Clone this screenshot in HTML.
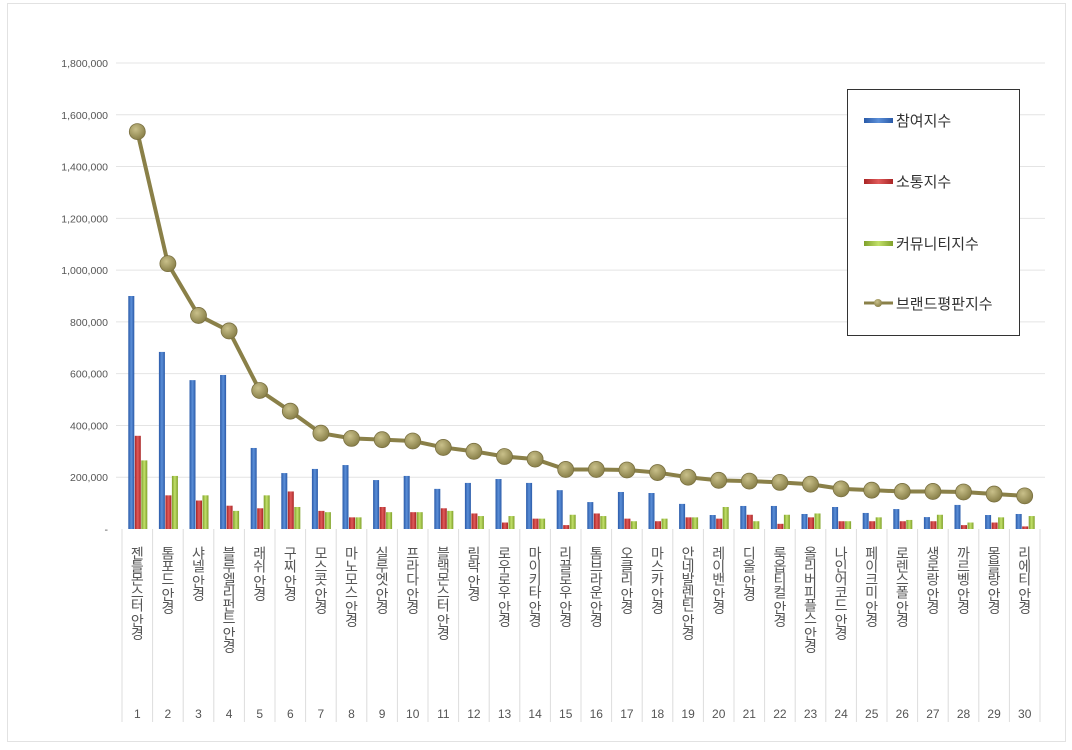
<!DOCTYPE html>
<html><head><meta charset="utf-8">
<style>
html,body{margin:0;padding:0;background:#fff;}
body{width:1072px;height:745px;overflow:hidden;position:relative;font-family:"Liberation Sans","Noto Sans CJK KR",sans-serif;}
svg text{font-family:"Liberation Sans","Noto Sans CJK KR",sans-serif;}
</style></head>
<body>
<svg id="chart" width="1072" height="745" xmlns="http://www.w3.org/2000/svg">
<defs>
<linearGradient id="gb" x1="0" x2="1"><stop offset="0" stop-color="#2a5aa8"/><stop offset="0.5" stop-color="#5b8fd8"/><stop offset="1" stop-color="#2a5aa8"/></linearGradient>
<linearGradient id="gr" x1="0" x2="1"><stop offset="0" stop-color="#a82525"/><stop offset="0.5" stop-color="#e05a5a"/><stop offset="1" stop-color="#a82525"/></linearGradient>
<linearGradient id="gg" x1="0" x2="1"><stop offset="0" stop-color="#7fa02a"/><stop offset="0.5" stop-color="#c2e06a"/><stop offset="1" stop-color="#7fa02a"/></linearGradient>
<radialGradient id="gd" cx="0.4" cy="0.35" r="0.7"><stop offset="0" stop-color="#c9c08a"/><stop offset="1" stop-color="#857c45"/></radialGradient>
</defs>
<rect x="7.5" y="3.5" width="1058" height="738" fill="#fff" stroke="#e2e2e2"/>
<g id="grid"></g><g id="bars"></g><g id="line"></g><g id="xaxis"></g>
<g>
<rect x="847.5" y="89.5" width="172" height="246" fill="#fff" stroke="#333"/>
<g><rect x="864" y="118" width="29" height="5" fill="url(#gb)"/><text x="896" y="126" font-size="15" fill="#333">참여지수</text></g>
<g><rect x="864" y="179" width="29" height="5" fill="url(#gr)"/><text x="896" y="187" font-size="15" fill="#333">소통지수</text></g>
<g><rect x="864" y="241" width="29" height="5" fill="url(#gg)"/><text x="896" y="249" font-size="15" fill="#333">커뮤니티지수</text></g>
<g><line x1="864" y1="303" x2="893" y2="303" stroke="#8a8048" stroke-width="3"/><circle cx="878" cy="303" r="4" fill="url(#gd)"/><text x="896" y="309" font-size="15" fill="#333">브랜드평판지수</text></g>
</g>
</svg>
<script>
const categories=["젠틀몬스터 안경","톰포드 안경","샤넬 안경","블루엘리펀트 안경","래쉬 안경","구찌 안경","모스콧 안경","마노모스 안경","실루엣 안경","프라다 안경","블랙몬스터 안경","림락 안경","로우로우 안경","마이키타 안경","리끌로우 안경","톰브라운 안경","오클리 안경","마스카 안경","안네발렌틴 안경","레이밴 안경","디올 안경","룩옵티컬 안경","올리버피플스 안경","나인어코드 안경","페이크미 안경","로렌스폴 안경","생로랑 안경","까르벵 안경","몽블랑 안경","리에티 안경"];
const participation=[900000,684000,575000,595000,313000,216000,232000,247000,189000,205000,155000,178000,193000,178000,150000,104000,143000,139000,97000,54000,89000,89000,58000,85000,62000,77000,46000,93000,54000,58000];
const communication=[360000,130000,110000,90000,80000,145000,70000,45000,85000,65000,80000,60000,25000,40000,15000,60000,40000,30000,45000,40000,55000,20000,45000,30000,30000,30000,30000,15000,25000,10000];
const community=[265000,205000,130000,70000,130000,85000,65000,45000,65000,65000,70000,50000,50000,40000,55000,50000,30000,40000,45000,85000,30000,55000,60000,30000,45000,35000,55000,25000,45000,50000];
const reputation=[1535000,1025000,825000,765000,535000,455000,370000,350000,345000,340000,315000,300000,280000,270000,230000,230000,228000,218000,200000,188000,185000,180000,173000,155000,150000,145000,145000,143000,135000,128000];
const yTicks=[0,200000,400000,600000,800000,1000000,1200000,1400000,1600000,1800000];
const yTickLabels=["-","200,000","400,000","600,000","800,000","1,000,000","1,200,000","1,400,000","1,600,000","1,800,000"];

const NS="http://www.w3.org/2000/svg";
const x0=122, step=30.6, y0=529, yTop=63, yMax=1800000;
const y=v=>y0-(v/yMax)*(y0-yTop);
const xc=i=>x0+step*i+step/2;
function mk(tag,attrs,parent){const e=document.createElementNS(NS,tag);for(const k in attrs)e.setAttribute(k,attrs[k]);parent.appendChild(e);return e;}
const grid=document.getElementById('grid'),bars=document.getElementById('bars'),line=document.getElementById('line'),xa=document.getElementById('xaxis');
yTicks.forEach((t,i)=>{
  if(i>0){const l=mk('line',{x1:x0-6,x2:1045,y1:y(t),y2:y(t),stroke:'#e4e4e4','stroke-width':1},grid);
  
  }
  const tx=mk('text',{x:108,y:y(t)+4,'text-anchor':'end','font-size':10.5,fill:'#555'},grid);
  tx.textContent=yTickLabels[i];
  
  
});
const series=[[participation,'url(#gb)','bar-participation'],[communication,'url(#gr)','bar-communication'],[community,'url(#gg)','bar-community']];
categories.forEach((c,i)=>{
  series.forEach((s,k)=>{
    const v=s[0][i];
    const r=mk('rect',{x:xc(i)-9+k*6.5,y:y(v),width:6,height:y0-y(v),fill:s[1]},bars);
    
    
  });
  const sep=mk('line',{x1:x0+step*i,x2:x0+step*i,y1:y0,y2:722,stroke:'#dcdcdc'},xa);
  
  
  const t=mk('text',{x:xc(i),y:546,'font-size':14,fill:'#555','writing-mode':'vertical-rl','text-orientation':'upright','letter-spacing':'-1'},xa);
  t.textContent=c;
  
  
  const n=mk('text',{x:xc(i),y:718,'font-size':12,fill:'#555','text-anchor':'middle'},xa);
  n.textContent=String(i+1);
  
  
});
const last=mk('line',{x1:x0+step*30,x2:x0+step*30,y1:y0,y2:722,stroke:'#dcdcdc'},xa);


const pl=mk('polyline',{points:reputation.map((v,i)=>xc(i)+','+y(v)).join(' '),fill:'none',stroke:'#8a8048','stroke-width':4,'stroke-linejoin':'round'},line);


reputation.forEach((v,i)=>{
  const c=mk('circle',{cx:xc(i),cy:y(v),r:8,fill:'url(#gd)',stroke:'#7a7040','stroke-width':0.8},line);
  
  
});
</script>
</body></html>
